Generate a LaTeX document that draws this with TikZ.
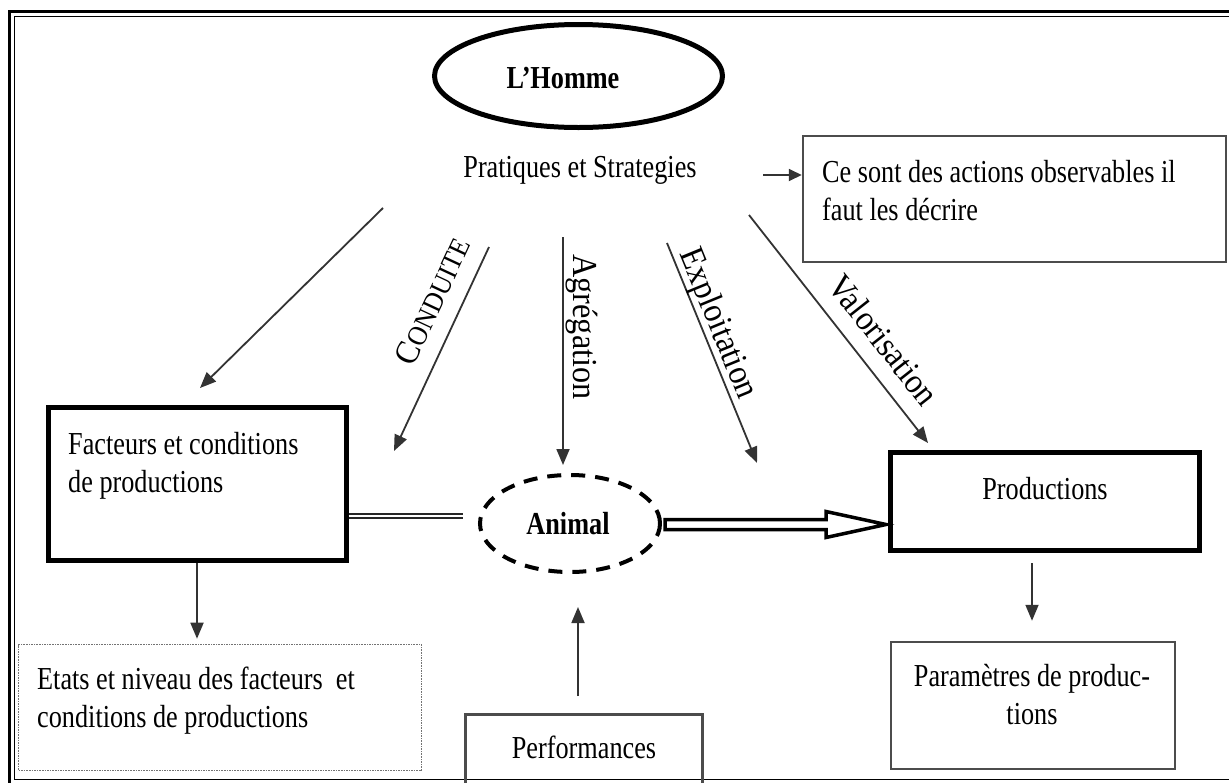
\documentclass[tikz,border=0pt]{standalone}
\usepackage{fontspec}
\setmainfont{Liberation Serif}[FakeStretch=0.82]
\newfontfamily\lblfont{Liberation Serif}[FakeStretch=0.92]
\usetikzlibrary{arrows.meta,shapes.geometric,calc}
\tikzset{
  txt/.style={font=\fontsize{32}{38}\selectfont, inner sep=0pt},
  lbl/.style={font=\lblfont\fontsize{35}{35}\selectfont, inner sep=0pt},
  thickbox/.style={draw=black, line width=5pt, rectangle, inner sep=0pt},
  thinbox/.style={draw=black!70, line width=2.5pt, rectangle, inner sep=0pt},
  dotbox/.style={draw=black!55, line width=1.6pt, densely dotted, rectangle, inner sep=0pt},
  conn/.style={draw=black!80, line width=1.8pt, -{Triangle[length=16pt,width=13pt]}},
  shortconn/.style={draw=black!80, line width=1.8pt, -{Triangle[length=13pt,width=12pt]}},
  framethick/.style={draw=black, line width=3pt},
  framethin/.style={draw=black, line width=1.4pt},
  dblline/.style={draw=black!85, line width=1.8pt, double=white, double distance=2.5pt},
  fatarrow/.style={draw=black, line width=3.5pt, fill=white, line join=miter},
}
\begin{document}
\begin{tikzpicture}[x=1pt,y=-1pt]
\useasboundingbox (0,0) rectangle (1229,782);
\clip (0,0) rectangle (1229,782);
\fill[white] (0,0) rectangle (1229,782);

% frame
\draw[framethick] (1240,11) -- (9,11) -- (9,790);
\draw[framethin] (1240,16.5) -- (14.5,16.5) -- (14.5,779.5) -- (1240,779.5);

% L'Homme
\node[draw=black, ellipse, line width=5pt, minimum width=288pt, minimum height=103pt, inner sep=0pt] (homme) at (578.5,76) {};
\node[txt, anchor=base] (hommet) at (563,88) {\bfseries L’Homme};
\node[txt, anchor=base] (prat) at (580,177) {Pratiques et Strategies};

% Ce sont ...
\node[thinbox, minimum width=423pt, minimum height=126pt] (ce) at (1014.5,199) {};
\node[txt, anchor=north west, align=left] (cet) at (822,160) {Ce sont des actions observables il\\faut les décrire};

% Facteurs
\node[thickbox, minimum width=298pt, minimum height=153pt] (fac) at (197,483.5) {};
\node[txt, anchor=north west, align=left] (fact) at (68,432) {Facteurs et conditions\\de productions};

% Etats
\node[dotbox, minimum width=403pt, minimum height=126pt] (etats) at (220,707.5) {};
\node[txt, anchor=north west, align=left] (etatst) at (37,667) {Etats et niveau des facteurs~ et\\conditions de productions};

% Animal
\node[draw=black, ellipse, line width=4pt, dash pattern=on 14pt off 10pt, minimum width=180pt, minimum height=97pt, inner sep=0pt] (anim) at (570,523.5) {};
\node[txt, anchor=base] (animt) at (568,534) {\bfseries Animal};

% Performances
\node[thinbox, minimum width=237pt, minimum height=75pt] (perf) at (584,752) {};
\node[txt, anchor=base] (perft) at (584,758) {Performances};

% Productions
\node[thickbox, minimum width=309pt, minimum height=98pt] (prod) at (1045,501.5) {};
\node[txt, anchor=base] (prodt) at (1045,499) {Productions};

% Parametres
\node[thinbox, minimum width=284pt, minimum height=127pt] (param) at (1033,705.5) {};
\node[txt, anchor=north, align=center] (paramt) at (1032,664) {Paramètres de produc-\\tions};

% arrows from Pratiques
\coordinate (p1) at (383,208); \coordinate (q1) at (200,388);
\coordinate (p2) at (489,247); \coordinate (q2) at (394,451);
\coordinate (p3) at (563,237); \coordinate (q3) at (563,465);
\coordinate (p4) at (667,243); \coordinate (q4) at (757,463);
\coordinate (p5) at (749,215); \coordinate (q5) at (928,443);
\draw[conn] (p1) -- (q1);
\draw[conn] (p2) -- (q2);
\draw[conn] (p3) -- (q3);
\draw[conn] (p4) -- (q4);
\draw[conn] (p5) -- (q5);

\coordinate (p6) at (763,175);
\draw[shortconn] (p6) -- (p6 -| ce.west);

% labels
\node[lbl, rotate=65] (lc) at (432.5,301) {{\fontsize{34}{34}\selectfont C}{\fontsize{28}{28}\selectfont ONDUITE}};
\node[lbl, rotate=-90] (lag) at (582,327) {Agrégation};
\node[lbl, rotate=-67.7] (lex) at (717,324) {Exploitation};
\node[lbl, rotate=-51.7] (lva) at (884,340) {Valorisation};

% vertical arrows
\draw[conn] (fac.south) -- ($(fac.south |- etats.north)+(0,-5)$);
\coordinate (p7) at (1032,563);
\draw[conn] (p7) -- ($(p7 |- param.north)+(0,-20)$);
\coordinate (p8) at (578,696);
\draw[conn] (p8) -- ($(p8 |- anim.south)+(0,33)$);

% double line Facteurs -- Animal
\coordinate (dl) at (463,516);
\draw[dblline] (fac.east |- dl) -- (dl);

% fat open arrow Animal -> Productions
\draw[fatarrow] ($(anim.east)+(3,-4)$) -- ++(161,0) -- ++(0,-8)
  -- ($(prod.west |- anim.east)+(-2,1)$) -- ++(-60,13) -- ++(0,-8) -- ++(-161,0) -- cycle;
\end{tikzpicture}
\end{document}
